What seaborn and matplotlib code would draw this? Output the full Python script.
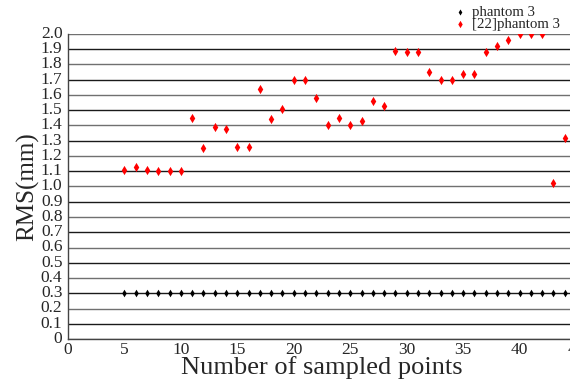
import numpy as np
import pandas as pd
import matplotlib
matplotlib.use("Agg")
import matplotlib.pyplot as plt
import seaborn as sns

# ---- data ----
x_points = list(range(5, 45))
ours_rms = [0.30] * len(x_points)
ref_rms = [1.11, 1.13, 1.11, 1.10, 1.10, 1.10, 1.45, 1.25, 1.39, 1.38,
           1.26, 1.26, 1.64, 1.44, 1.51, 1.70, 1.70, 1.58, 1.40, 1.45,
           1.40, 1.43, 1.56, 1.53, 1.89, 1.88, 1.88, 1.75, 1.70, 1.70,
           1.74, 1.74, 1.88, 1.92, 1.96, 2.00, 2.00, 2.00, 1.02, 1.32]
series_names = ["phantom 3", "[22]phantom 3"]
x_ticks = list(range(0, 50, 5))
y_ticks = [round(0.1 * i, 1) for i in range(21)]
y_ticklabels = ["0"] + [f"{v:.1f}" for v in y_ticks[1:]]

sns.set_style("white")
plt.rcParams["font.family"] = ["Liberation Serif", "DejaVu Serif"]

fig = plt.figure(figsize=(5.7, 3.85), dpi=100)
ax = fig.add_axes([68 / 570, 1 - 339 / 385, (576 - 68) / 570, (339 - 34) / 385])

df_ours = pd.DataFrame({"x": x_points, "rms": ours_rms, "series": series_names[0]})
df_ref = pd.DataFrame({"x": x_points, "rms": ref_rms, "series": series_names[1]})

for i, yv in enumerate(y_ticks):
    ax.axhline(yv, color="#1a1a1a" if i % 2 else "#707070", lw=1.0, zorder=0)

sns.scatterplot(data=df_ours, x="x", y="rms", ax=ax, color="black", marker="d",
                s=15, linewidth=0, label=series_names[0], zorder=3)
sns.scatterplot(data=df_ref, x="x", y="rms", ax=ax, color="red", marker="d",
                s=22, linewidth=0, label=series_names[1], zorder=3)

ax.set_xlim(0, 45)
ax.set_ylim(0, 2.0)
ax.set_xticks(x_ticks)
ax.set_yticks(y_ticks)
ax.set_yticklabels(y_ticklabels)
ax.tick_params(axis="both", length=0, labelsize=12.5)
ax.tick_params(axis="y", pad=4)
ax.tick_params(axis="x", pad=2)
for lab in ax.get_yticklabels():
    lab.set_verticalalignment("center")

for side in ["top", "right"]:
    ax.spines[side].set_visible(False)
for side in ["left", "bottom"]:
    ax.spines[side].set_color("#444444")
    ax.spines[side].set_linewidth(1.0)

ax.set_xlabel("Number of sampled points", fontsize=19, labelpad=-1)
ax.set_ylabel("RMS(mm)", fontsize=18, labelpad=1)

leg = ax.legend(loc="upper left", bbox_to_anchor=(444 / 570, 1.008), bbox_transform=fig.transFigure,
                frameon=False, fontsize=10.7, borderpad=0.1, labelspacing=-0.1,
                handletextpad=0.3, handlelength=1.0, markerscale=0.8)

fig.savefig("out.png", dpi=100)
